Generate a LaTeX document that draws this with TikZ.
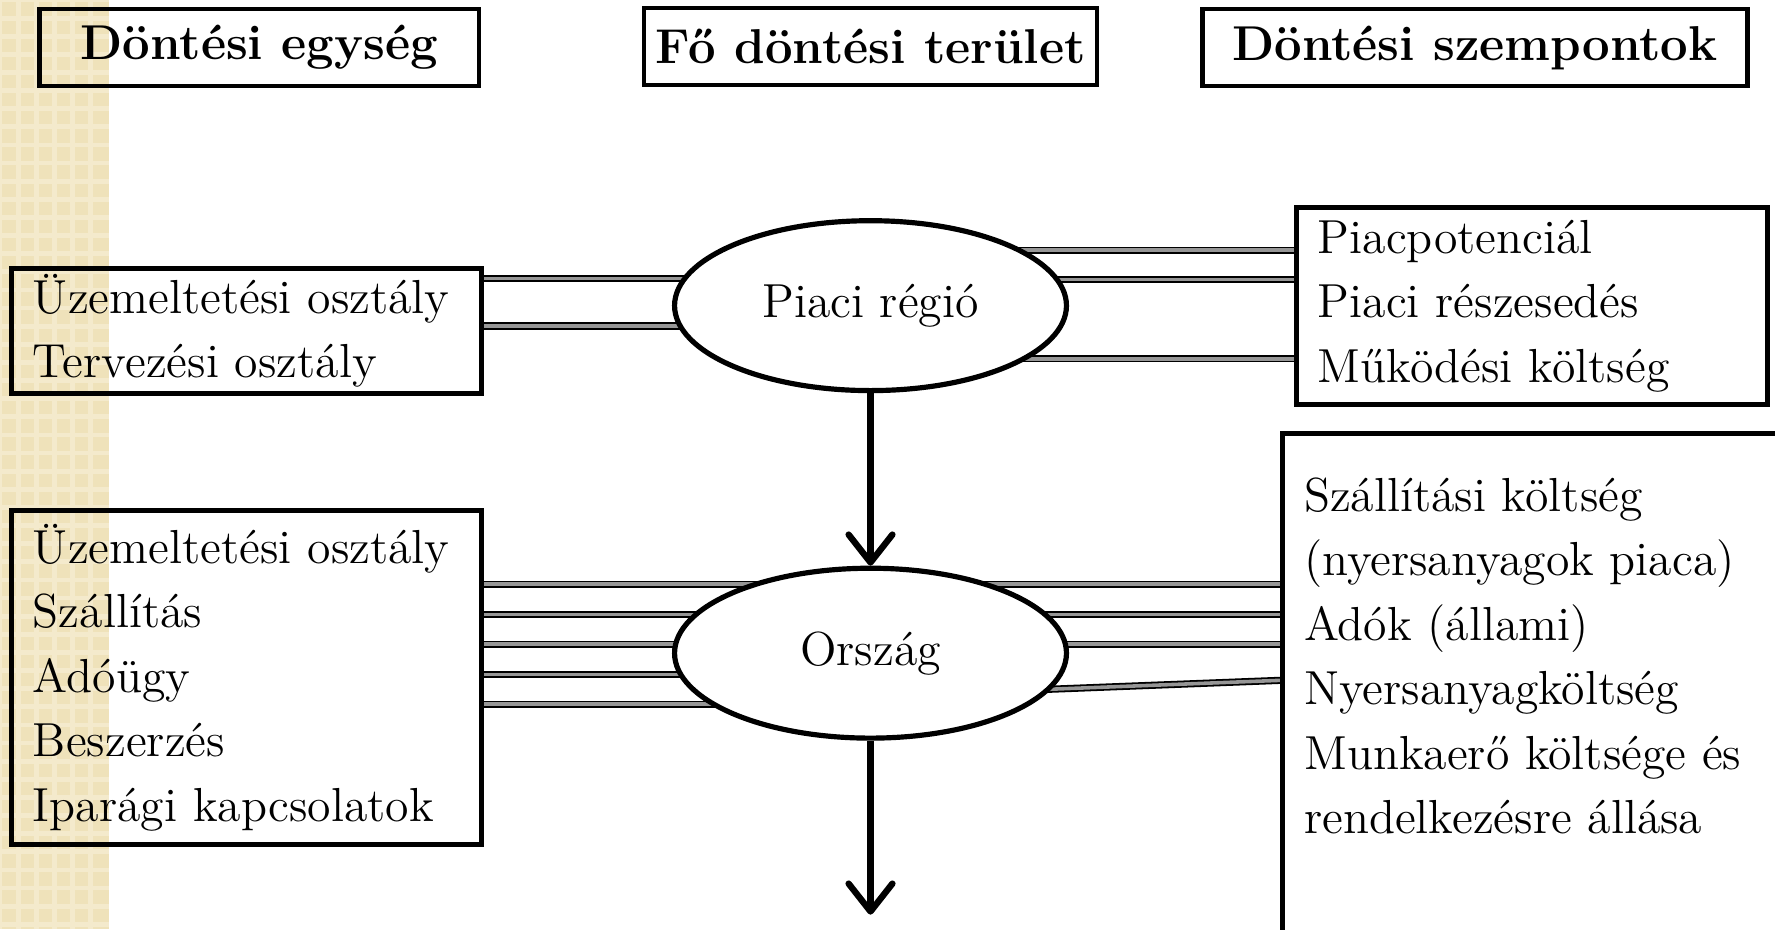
\documentclass[tikz,border=0pt]{standalone}
\usepackage{fontspec}
\usetikzlibrary{shapes.geometric,arrows.meta,backgrounds}

\definecolor{stripbase}{RGB}{239,226,186}
\definecolor{stripcheck}{RGB}{244,234,204}
\definecolor{linkgray}{RGB}{150,150,150}

\tikzset{
  headbox/.style={draw,line width=1.2pt,minimum height=0.68cm,inner xsep=0.05cm,font=\fontsize{12.3}{15}\selectfont\bfseries},
  listbox/.style={draw,line width=1.2pt,align=left,inner xsep=0.19cm,inner ysep=0.05cm,font=\fontsize{12}{16.2}\selectfont},
  area/.style={draw,ellipse,fill=white,line width=1.3pt,minimum width=3.46cm,minimum height=1.5cm,inner sep=0pt,font=\fontsize{12}{16.2}\selectfont},
  link/.style={draw=black,line width=0.45pt,double=linkgray,double distance=0.9pt},
  flow/.style={line width=1.6pt,-{Straight Barb[length=7pt,width=11pt,line width=1.6pt,round]}}
}

\begin{document}
\begin{tikzpicture}[x=0.01cm,y=-0.01cm]
	\useasboundingbox (0,0) rectangle (1568,821);
	\clip (0,0) rectangle (1568,821);

	\node[headbox,minimum width=3.88cm] (hunit) at (229,42) {Döntési egység};
	\node[headbox,minimum width=4.00cm] (harea) at (769,41) {Fő döntési terület};
	\node[headbox,minimum width=4.81cm] (hcrit) at (1303,42) {Döntési szempontok};

	\node[listbox,text width=3.77cm,minimum height=1.08cm,anchor=north west] (unit1) at (8,235)
		{Üzemeltetési osztály\\Tervezési osztály};
	\node[listbox,text width=3.77cm,minimum height=2.95cm,anchor=north west] (unit2) at (8,449)
		{Üzemeltetési osztály\\Szállítás\\Adóügy\\Beszerzés\\Iparági kapcsolatok};

	\node[area] (piac) at (769,270) {Piaci régió};
	\node[area] (orsz) at (769,577) {Ország};

	\node[listbox,text width=3.78cm,minimum height=1.74cm,anchor=north west] (crit1) at (1143,181)
		{Piacpotenciál\\Piaci részesedés\\Működési költség};
	\node[listbox,inner ysep=0.39cm,anchor=north west] (crit2) at (1131,381)
		{\parbox[c][5cm][t]{4.6cm}{Szállítási költség\\(nyersanyagok piaca)\\Adók (állami)\\Nyersanyagköltség\\Munkaerő költsége és\\rendelkezésre állása}};

	\coordinate (next) at (769,808);
	\draw[flow] (piac) -- (orsz);
	\draw[flow] (orsz) -- (next);

	\begin{scope}[on background layer]
		\fill[white] (0,0) rectangle (1568,821);
		\fill[stripbase] (0,0) rectangle (96,821);
		\draw[stripcheck,line width=1.2pt,step=0.16cm] (0,0) grid (96,821);
		\draw[link] (unit1.east |- 0,246) -- (piac.center |- 0,246);
		\draw[link] (unit1.east |- 0,288) -- (piac.center |- 0,288);
		\draw[link] (crit1.west |- 0,221) -- (piac.center |- 0,221);
		\draw[link] (crit1.west |- 0,247) -- (piac.center |- 0,247);
		\draw[link] (crit1.west |- 0,317) -- (piac.center |- 0,317);
		\draw[link] (unit2.east |- 0,516) -- (orsz.center |- 0,516);
		\draw[link] (unit2.east |- 0,543) -- (orsz.center |- 0,543);
		\draw[link] (unit2.east |- 0,569) -- (orsz.center |- 0,569);
		\draw[link] (unit2.east |- 0,596) -- (orsz.center |- 0,596);
		\draw[link] (unit2.east |- 0,622) -- (orsz.center |- 0,622);
		\draw[link] (crit2.west |- 0,516) -- (orsz.center |- 0,516);
		\draw[link] (crit2.west |- 0,543) -- (orsz.center |- 0,543);
		\draw[link] (crit2.west |- 0,569) -- (orsz.center |- 0,569);
		\draw[link] (crit2.west |- 0,601) -- (orsz.center |- 0,615);
	\end{scope}
\end{tikzpicture}
\end{document}
